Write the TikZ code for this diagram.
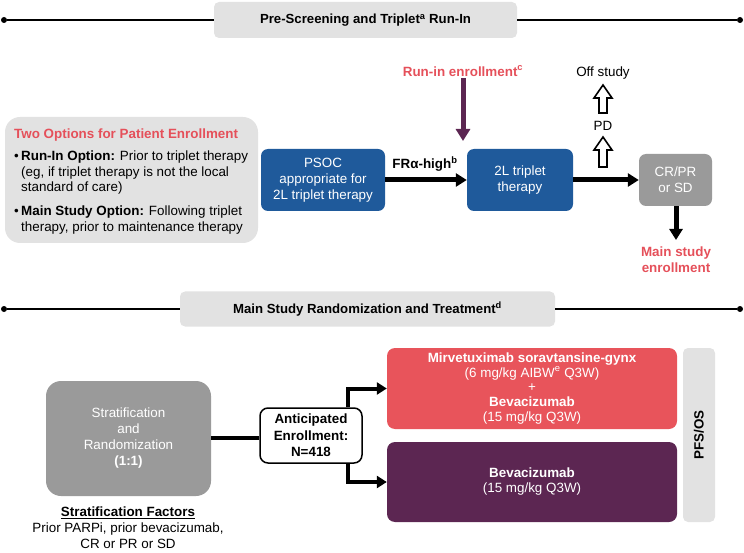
\documentclass[tikz,border=0pt]{standalone}
\usepackage{fontspec}
\setmainfont{Liberation Sans}
\usetikzlibrary{arrows.meta}
\definecolor{hdrgray}{HTML}{E2E2E2}
\definecolor{blu}{HTML}{1F5A9B}
\definecolor{midgray}{HTML}{9A9A9A}
\definecolor{redc}{HTML}{E8545B}
\definecolor{purp}{HTML}{5C2652}
\definecolor{redtxt}{HTML}{E5505A}
\newcommand\hollowup[3]{%
  \draw[line width=1.6pt, fill=white, line join=miter]
    (#1-4,#2) -- (#1-4,#3+13) -- (#1-9,#3+13) -- (#1,#3) -- (#1+9,#3+13) -- (#1+4,#3+13) -- (#1+4,#2) -- cycle;}
\begin{document}
\begin{tikzpicture}[x=1pt,y=-1pt,
  font=\fontsize{13.4}{16}\selectfont,
  hdr/.style={fill=hdrgray, rounded corners=5pt, inner sep=0pt, minimum height=36pt,
    font=\bfseries\fontsize{13.2}{14}\selectfont},
  hline/.style={line width=1.8pt},
  dot/.style={circle, fill=black, inner sep=0pt, minimum size=6pt},
  blubox/.style={fill=blu, text=white, rounded corners=7pt, align=center, inner sep=0pt},
  graybox/.style={fill=midgray, text=white, rounded corners=7pt, align=center, inner sep=0pt},
  bigarrow/.style={line width=5pt, -{Triangle[length=11pt,width=13pt]}},
  brarrow/.style={line width=4pt, line join=miter, -{Triangle[length=10pt,width=12pt]}},
  txt/.style={inner sep=0pt, anchor=base west},
  bld/.style={font=\bfseries\fontsize{13.4}{16}\selectfont},
]
\useasboundingbox (0,0) rectangle (744,553);

% ---------- header 1
\node[hdr, minimum width=303pt] (h1) at (365.5,20) {Pre-Screening and Triplet\textsuperscript{a} Run-In};
\node[dot] (d1l) at (4,20) {};
\node[dot] (d1r) at (740,20) {};
\draw[hline] (d1l) -- (h1.west);
\draw[hline] (h1.east) -- (d1r);

% ---------- options box
\node[fill=hdrgray, rounded corners=15pt, minimum width=253pt, minimum height=126pt, inner sep=0pt] (opt) at (131.5,180) {};
\node[txt, text=redtxt, bld] (o0) at (14,138.8) {Two Options for Patient Enrollment};
\node[txt] (o1b) at (14,160.8) {•};
\node[txt] (o1) at (21,160.8) {\textbf{Run-In Option:} Prior to triplet therapy};
\node[txt] (o2) at (21,176.8) {(eg, if triplet therapy is not the local};
\node[txt] (o3) at (21,191.8) {standard of care)};
\node[txt] (o4b) at (14,215.8) {•};
\node[txt] (o4) at (21,215.8) {\textbf{Main Study Option:} Following triplet};
\node[txt] (o5) at (21,231.8) {therapy, prior to maintenance therapy};

% ---------- top flow
\node[blubox, minimum width=124pt, minimum height=62pt] (psoc) at (323,180) {PSOC\\appropriate for\\2L triplet therapy};
\node[blubox, minimum width=106pt, minimum height=62pt] (tl) at (520,180) {2L triplet\\therapy};
\node[graybox, minimum width=73pt, minimum height=52pt] (cr) at (675.5,180) {CR/PR\\or SD};
\draw[bigarrow] (psoc.east) -- (tl.west);
\node[bld, inner sep=0pt] (fr) at (425,164) {FRα-high\textsuperscript{b}};
\draw[bigarrow] (tl.east) -- (cr.west);

\node[text=redtxt, bld, inner sep=0pt] (run) at (463,71) {Run-in enrollment\textsuperscript{c}};
\coordinate (runtip) at (463,141);
\draw[line width=5pt, purp, -{Triangle[length=12pt,width=14pt]}] (run.south) ++(0,2) -- (runtip);

\node[inner sep=0pt] (off) at (603,73) {Off study};
\node[inner sep=0pt] (pd) at (603,126) {PD};
\hollowup{603}{167}{137}
\hollowup{603}{113}{85}

\coordinate (mse) at (676,240);
\draw[bigarrow] (cr.south -| mse) -- (mse);
\node[text=redtxt, bld, align=center, inner sep=0pt] (msl) at (676,260) {Main study\\enrollment};

% ---------- header 2
\node[hdr, minimum width=375pt, minimum height=35pt] (h2) at (367.5,309) {Main Study Randomization and Treatment\textsuperscript{d}};
\node[dot] (d2l) at (4,309) {};
\node[dot] (d2r) at (740,309) {};
\draw[hline] (d2l) -- (h2.west);
\draw[hline] (h2.east) -- (d2r);

% ---------- bottom flow
\node[graybox, rounded corners=15pt, minimum width=165pt, minimum height=115pt] (strat) at (128.5,438.5)
  {Stratification\\and\\Randomization\\\textbf{(1:1)}};
\node[draw, line width=1.5pt, fill=white, rounded corners=8pt, align=center, inner sep=0pt,
  minimum width=102pt, minimum height=55pt, font=\bfseries\fontsize{13.4}{16.5}\selectfont] (antic) at (311,435.5)
  {Anticipated\\Enrollment:\\N=418};
\draw[line width=4pt] (strat.east |- 0,438) -- (antic.west |- 0,438);

\node[fill=redc, text=white, rounded corners=8pt, align=center, inner sep=0pt,
  minimum width=290pt, minimum height=81pt, font=\fontsize{13.4}{14.8}\selectfont] (mirv) at (532,388.5)
  {\textbf{Mirvetuximab soravtansine-gynx}\\(6 mg/kg AIBW\textsuperscript{e} Q3W)\\+\\\textbf{Bevacizumab}\\(15 mg/kg Q3W)};
\node[fill=purp, text=white, rounded corners=8pt, align=center, inner sep=0pt,
  minimum width=290pt, minimum height=80pt, font=\fontsize{13.4}{15}\selectfont] (bev) at (532,482)
  {\textbf{Bevacizumab}\\(15 mg/kg Q3W)};
\node[fill=hdrgray, rounded corners=5pt, rotate=90, inner sep=0pt, minimum width=174pt, minimum height=32pt,
  font=\bfseries\fontsize{13.4}{15}\selectfont] (pfs) at (699,435) {PFS/OS};

\draw[brarrow] ([xshift=-15pt]antic.north east) |- (mirv.west);
\draw[brarrow] ([xshift=-15pt]antic.south east) |- (bev.west);

\node[align=center, inner sep=0pt] (sf) at (128,528)
  {\textbf{\underline{Stratification Factors}}\\Prior PARPi, prior bevacizumab,\\CR or PR or SD};
\end{tikzpicture}
\end{document}
